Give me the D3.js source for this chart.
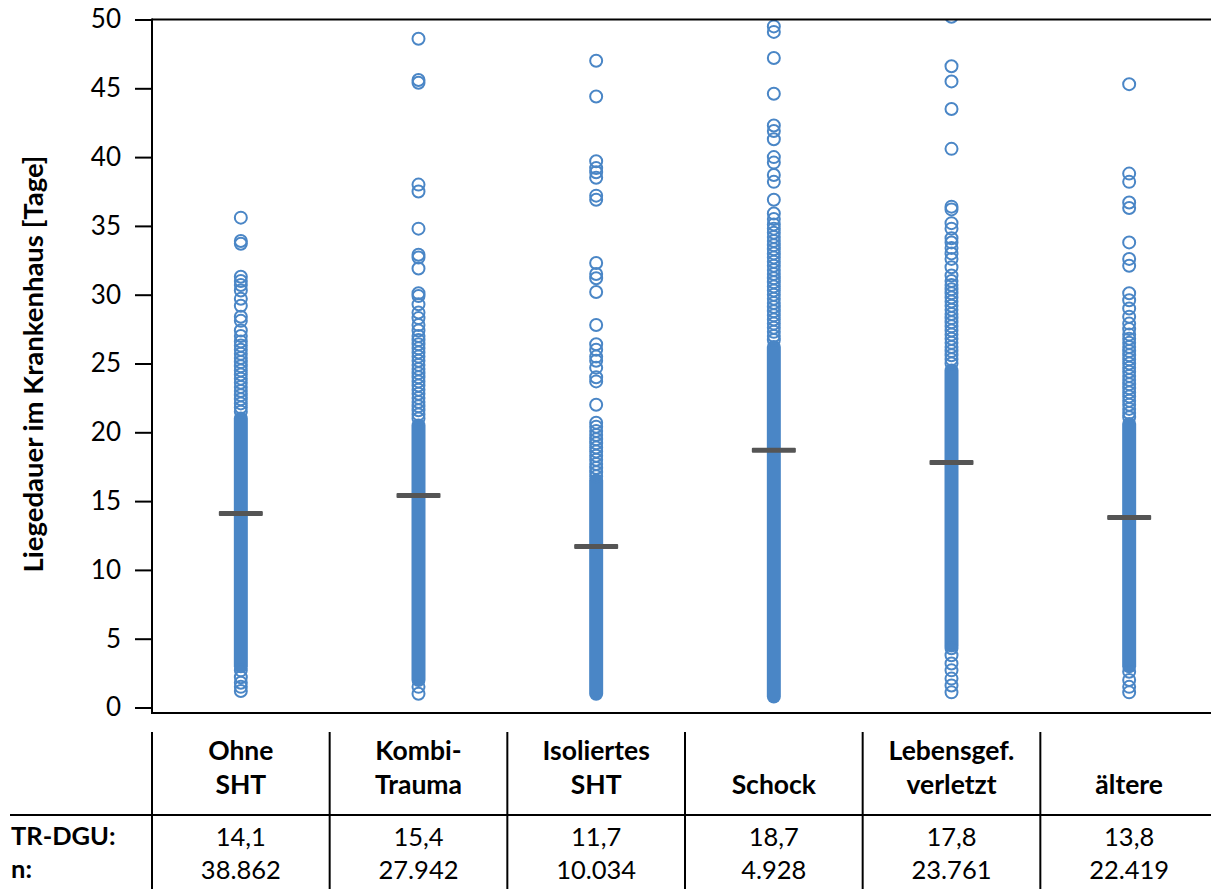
<!DOCTYPE html>
<html><head><meta charset="utf-8">
<script src="https://cdn.jsdelivr.net/npm/d3@7"></script>
<style>
body{margin:0;background:#fff;}
svg{display:block;font-family:Lato,"Open Sans",sans-serif;}
</style>
</head><body><svg id="c" width="1211" height="889"></svg>
<script>
const categories = ["Ohne SHT","Kombi-Trauma","Isoliertes SHT","Schock","Lebensgef. verletzt","ältere"];
const labelLines = [["Ohne","SHT"],["Kombi-","Trauma"],["Isoliertes","SHT"],["Schock"],["Lebensgef.","verletzt"],["ältere"]];
const meanValues = [14.1,15.4,11.7,18.7,17.8,13.8];
const meanLabels = ["14,1","15,4","11,7","18,7","17,8","13,8"];
const nLabels = ["38.862","27.942","10.034","4.928","23.761","22.419"];
// dense (solid) part of each column: lowest / highest value of the continuous band
const denseLow = [3.0,2.0,1.0,0.8,4.5,3.0];
const denseHigh = [21.0,20.5,16.5,26.2,24.5,20.6];
// individually visible points
const pointsOhne = [35.6,33.9,33.7,31.3,31.0,30.7,30.3,29.7,29.2,28.4,28.1,27.4,27.0,26.6,26.3,26.0,25.7,25.4,25.1,24.8,24.5,24.2,23.9,23.6,23.3,23.0,22.7,22.4,22.1,21.8,21.5,2.7,2.2,1.8,1.5,1.2];
const pointsKombi = [48.6,45.6,45.4,38.0,37.5,34.8,32.9,32.7,31.9,30.1,29.9,29.3,28.7,28.3,27.8,27.4,27.0,26.7,26.4,26.1,25.8,25.5,25.2,24.9,24.6,24.3,24.0,23.7,23.4,23.1,22.8,22.5,22.2,21.9,21.6,21.3,21.0,1.5,1.0];
const pointsIsoliert = [47.0,44.4,39.7,39.2,38.9,38.5,37.2,36.9,32.3,31.5,31.2,30.2,27.8,26.4,26.0,25.5,25.2,24.7,24.0,23.7,22.0,20.7,20.4,20.1,19.8,19.5,19.2,18.9,18.6,18.3,18.0,17.7,17.4,17.1,16.8];
const pointsSchock = [49.5,49.1,47.2,44.6,42.3,41.9,41.3,40.0,39.6,38.7,38.2,36.9,35.9,35.5,35.1,34.8,34.5,34.2,33.9,33.6,33.3,33.0,32.7,32.4,32.1,31.8,31.5,31.2,30.9,30.6,30.3,30.0,29.7,29.4,29.1,28.8,28.5,28.2,27.9,27.6,27.3,27.0,26.7];
const pointsLebensgef = [50.2,46.6,45.5,43.5,40.6,36.4,36.2,35.2,34.8,34.1,33.8,33.4,33.0,32.6,32.0,31.4,31.0,30.7,30.4,30.1,29.8,29.5,29.2,28.9,28.6,28.3,28.0,27.7,27.4,27.1,26.8,26.5,26.2,25.9,25.6,25.3,25.0,4.3,3.8,3.2,2.7,2.1,1.6,1.1];
const pointsAeltere = [45.3,38.8,38.2,36.7,36.3,33.8,32.6,32.1,30.1,29.6,29.0,28.4,27.9,27.5,27.1,26.8,26.5,26.2,25.9,25.6,25.3,25.0,24.7,24.4,24.1,23.8,23.5,23.2,22.9,22.6,22.3,22.0,21.7,21.4,21.1,2.6,2.0,1.5,1.1];
const pointSets = [pointsOhne,pointsKombi,pointsIsoliert,pointsSchock,pointsLebensgef,pointsAeltere];
const yTicks = [0,5,10,15,20,25,30,35,40,45,50];
const rowLabels = ["TR-DGU:","n:"];

const blue = "#4a86c6", dark = "#555555";
const svg = d3.select("#c");
const plot = {left:152, right:1218, top:19.5, zeroY:707.5, bottom:713};
const x = d3.scaleBand().domain(categories).range([plot.left, plot.right]).padding(0);
const y = d3.scaleLinear().domain([0,50]).range([plot.zeroY, plot.top]);
const cx = c => x(c) + x.bandwidth()/2;
const r = 6, sw = 2;

svg.append("defs").append("clipPath").attr("id","clip")
  .append("rect").attr("x",plot.left).attr("y",plot.top).attr("width",1211-plot.left).attr("height",plot.bottom-plot.top);

const g = svg.append("g").attr("clip-path","url(#clip)");
// dense bands
g.selectAll("rect.band").data(categories).join("rect").attr("class","band")
  .attr("x", c => cx(c) - r - sw/2)
  .attr("width", 2*r + sw)
  .attr("y", (c,i) => y(denseHigh[i]) - r - sw/2)
  .attr("height", (c,i) => y(denseLow[i]) - y(denseHigh[i]) + 2*r + sw)
  .attr("rx", r + sw/2)
  .attr("fill", blue);
// individual points
categories.forEach((c,i) => {
  g.selectAll(null).data(pointSets[i]).join("circle")
    .attr("cx", cx(c)).attr("cy", d => y(d)).attr("r", r)
    .attr("fill","none").attr("stroke", blue).attr("stroke-width", sw);
});
// mean markers
svg.selectAll("rect.mean").data(categories).join("rect").attr("class","mean")
  .attr("x", c => cx(c) - 22).attr("width", 44)
  .attr("y", (c,i) => y(meanValues[i]) - 2.5).attr("height", 5)
  .attr("rx",1).attr("fill", dark);

// y axis
const yAxis = d3.axisLeft(y).tickValues(yTicks).tickSize(17).tickPadding(14).tickFormat(d3.format("d"));
const ya = svg.append("g").attr("transform",`translate(${plot.left},0)`).call(yAxis);
ya.select(".domain").remove();
ya.selectAll(".tick line").attr("stroke","#000").attr("stroke-width",2);
ya.selectAll(".tick text").attr("font-size",26).attr("fill","#000").attr("font-family","Lato");
svg.append("line").attr("x1",plot.left).attr("x2",plot.left).attr("y1",plot.top-1).attr("y2",plot.bottom+1).attr("stroke","#000").attr("stroke-width",2);
svg.append("line").attr("x1",plot.left).attr("x2",1211).attr("y1",plot.top).attr("y2",plot.top).attr("stroke","#000").attr("stroke-width",2);
svg.append("line").attr("x1",plot.left).attr("x2",1211).attr("y1",plot.bottom).attr("y2",plot.bottom).attr("stroke","#000").attr("stroke-width",2);

svg.append("text").attr("transform","translate(43,364) rotate(-90)")
  .attr("text-anchor","middle").attr("font-weight","bold").attr("font-size",27.5)
  .text("Liegedauer im Krankenhaus [Tage]");

// table
svg.selectAll("line.vsep").data(categories).join("line").attr("class","vsep")
  .attr("x1", c => x(c)).attr("x2", c => x(c)).attr("y1",732).attr("y2",889)
  .attr("stroke","#000").attr("stroke-width",2);
svg.append("line").attr("x1",10).attr("x2",1211).attr("y1",815).attr("y2",815).attr("stroke","#000").attr("stroke-width",2);

categories.forEach((c,i) => {
  const lines = labelLines[i];
  const t = svg.append("text").attr("text-anchor","middle").attr("font-weight","bold").attr("font-size",26.5).attr("fill","#000");
  lines.forEach((l,k) => {
    t.append("tspan").attr("x", cx(c)).attr("y", 794 - (lines.length-1-k)*34).text(l);
  });
  svg.append("text").attr("x",cx(c)).attr("y",846).attr("text-anchor","middle").attr("font-size",25.5).text(meanLabels[i]);
  svg.append("text").attr("x",cx(c)).attr("y",879).attr("text-anchor","middle").attr("font-size",25.5).text(nLabels[i]);
});
rowLabels.forEach((l,k) => {
  svg.append("text").attr("x",11).attr("y",845 + k*33).attr("font-weight","bold").attr("font-size",25.5).text(l);
});
</script>
</body></html>
